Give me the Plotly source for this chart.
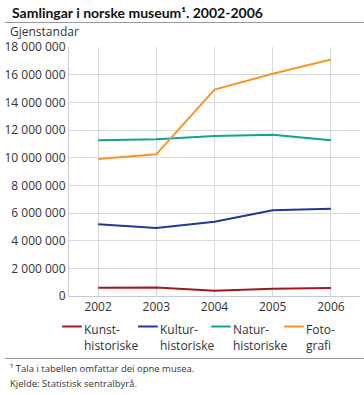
import plotly.graph_objects as go

years = ["2002", "2003", "2004", "2005", "2006"]
series_names = ["Kunst-<br>historiske", "Kultur-<br>historiske", "Natur-<br>historiske", "Foto-<br>grafi"]
kunst = [600000, 610000, 380000, 530000, 570000]
kultur = [5180000, 4920000, 5370000, 6190000, 6310000]
natur = [11260000, 11330000, 11570000, 11660000, 11260000]
foto = [9900000, 10240000, 14920000, 16070000, 17090000]
series_values = [kunst, kultur, natur, foto]
colors = ["#9e1b20", "#1d3a94", "#169f9b", "#f7952b"]
y_ticks = list(range(0, 18000001, 2000000))

W, H = 364, 395
L, R, T, B = 65, 4, 47, 99
PW, PH = W - L - R, H - T - B

def px(x):
    return (x - L) / PW

def py(y):
    return (H - B - y) / PH

fig = go.Figure()
for name, vals, c in zip(series_names, series_values, colors):
    fig.add_trace(go.Scatter(x=years, y=vals, mode="lines", name=name,
                             line=dict(color=c, width=2), showlegend=False))

font = "Open Sans, Noto Sans, sans-serif"
fig.update_layout(
    width=W, height=H,
    margin=dict(l=L, r=R, t=T, b=B),
    paper_bgcolor="white", plot_bgcolor="white",
    separators=", ",
    font=dict(family=font, size=12, color="#333"),
    xaxis=dict(type="category", range=[-0.5, 4.5], showgrid=True, gridcolor="#d8dae2",
               gridwidth=1, showline=True, linecolor="#c8cad2", ticks="",
               tickfont=dict(size=12, color="#333")),
    yaxis=dict(range=[0, 18000000], tickvals=y_ticks, tickformat=",d", showgrid=True,
               gridcolor="#d8dae2", gridwidth=1, showline=True, linecolor="#c8cad2",
               zeroline=False, ticks="", tickfont=dict(size=12, color="#333")),
)

ann = []
shapes = []
ann.append(dict(text="Samlingar i norske museum¹. 2002-2006", x=px(5), y=py(12),
                xref="paper", yref="paper", xanchor="left", yanchor="middle", showarrow=False,
                font=dict(size=14, color="#111", family="Lato, Open Sans, sans-serif", weight="bold")))
shapes.append(dict(type="line", xref="paper", yref="paper", x0=px(0), x1=px(364),
                   y0=py(22.5), y1=py(22.5), line=dict(color="#999", width=1)))
ann.append(dict(text="Gjenstandar", x=px(3), y=py(32), xref="paper", yref="paper",
                xanchor="left", yanchor="middle", showarrow=False,
                font=dict(size=12, color="#333", family=font)))

leg_x = [58, 135, 209, 283]
for i, (name, c) in enumerate(zip(series_names, colors)):
    x0 = leg_x[i]
    shapes.append(dict(type="line", xref="paper", yref="paper", x0=px(x0), x1=px(x0 + 20),
                       y0=py(326.5), y1=py(326.5), line=dict(color=c, width=2)))
    ann.append(dict(text=name, x=px(x0 + 20), y=py(319), xref="paper", yref="paper",
                    xanchor="left", yanchor="top", align="left", showarrow=False,
                    font=dict(size=12, color="#333", family=font)))
shapes.append(dict(type="line", xref="paper", yref="paper", x0=px(0), x1=px(364),
                   y0=py(358.5), y1=py(358.5), line=dict(color="#999", width=1)))
ann.append(dict(text="¹ Tala i tabellen omfattar dei opne musea.", x=px(3), y=py(368),
                xref="paper", yref="paper", xanchor="left", yanchor="middle", showarrow=False,
                font=dict(size=9.5, color="#333", family=font)))
ann.append(dict(text="Kjelde: Statistisk sentralbyrå.", x=px(3), y=py(383),
                xref="paper", yref="paper", xanchor="left", yanchor="middle", showarrow=False,
                font=dict(size=9.5, color="#333", family=font)))
fig.update_layout(annotations=ann, shapes=shapes)
fig.write_html("out.html", config={"displayModeBar": False},
               post_script="document.body.style.margin='0';document.body.style.overflow='hidden';")
